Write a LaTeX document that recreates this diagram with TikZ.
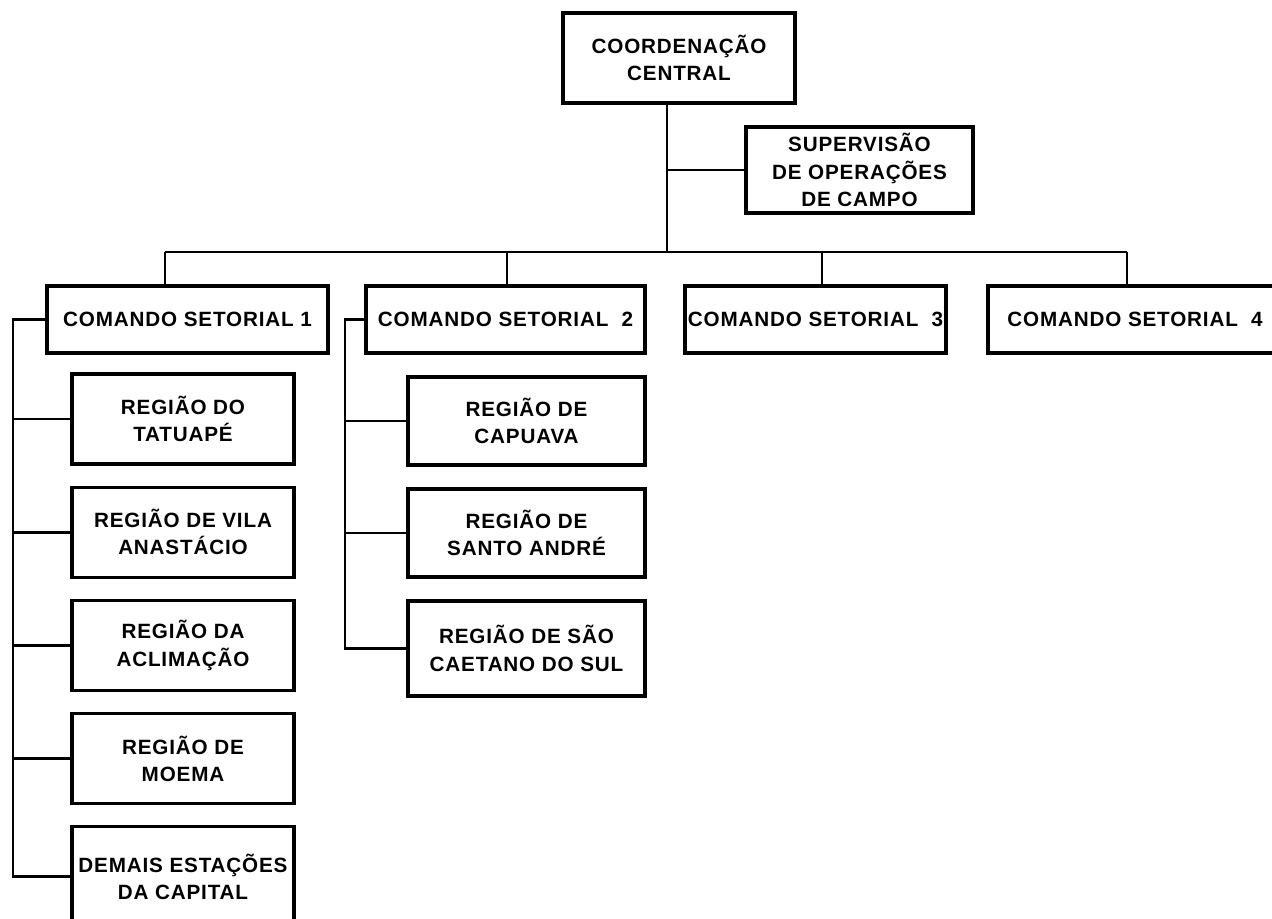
\documentclass[tikz,border=0pt]{standalone}
\usepackage{fontspec}
\setmainfont{Liberation Sans}
\newfontfamily\orgfont[LetterSpace=4]{Liberation Sans}
\usetikzlibrary{positioning}
\tikzset{box/.style = {draw, rectangle, line width=2.4pt, inner sep=0pt, outer sep=0pt,
                       align=center, font=\orgfont\bfseries\fontsize{15.5}{20.5}\selectfont},
         cmdbox/.style = {box, minimum height=50.25pt},
         regbox/.style = {box, minimum width=166.5pt, minimum height=67.5pt},
         link/.style = {line width=2pt}}

\begin{document}
\begin{tikzpicture}[x=0.75pt, y=-0.75pt]
      \useasboundingbox (0, 0) rectangle (1272, 919);
      \clip (0, 0) rectangle (1272, 919);

      \node [box, minimum width=174pt, minimum height=67.5pt] (cc) at (679, 58) {COORDENAÇÃO\\CENTRAL};
      \node [box, minimum width=170.25pt, minimum height=64.5pt] (sup) at (859.5, 170) {SUPERVISÃO\\DE OPERAÇÕES\\DE CAMPO};

      \node [cmdbox, minimum width=210.75pt] (cs1) at (187.5, 319.5) {COMANDO SETORIAL 1};
      \node [cmdbox, minimum width=209.25pt] (cs2) at (505.5, 319.5) {COMANDO SETORIAL\ \ 2};
      \node [cmdbox, minimum width=195.75pt] (cs3) at (815.5, 319.5) {COMANDO SETORIAL\ \ 3};
      \node [cmdbox, minimum width=220.5pt] (cs4) at (1135, 319.5) {COMANDO SETORIAL\ \ 4};

      \node [regbox] (tatuape) at (183, 419) {REGIÃO DO\\TATUAPÉ};
      \node [regbox, below=17.4pt of tatuape] (vila) {REGIÃO DE VILA\\ANASTÁCIO};
      \node [regbox, below=17.4pt of vila] (aclimacao) {REGIÃO DA\\ACLIMAÇÃO};
      \node [regbox, below=17.4pt of aclimacao] (moema) {REGIÃO DE\\MOEMA};
      \node [regbox, minimum height=75pt, below=17.4pt of moema] (demais) {DEMAIS ESTAÇÕES\\DA CAPITAL};

      \node [regbox, minimum width=177.75pt, minimum height=66pt] (capuava) at (526.5, 421) {REGIÃO DE\\CAPUAVA};
      \node [regbox, minimum width=177.75pt, minimum height=66pt, below=18pt of capuava] (santoandre) {REGIÃO DE\\SANTO ANDRÉ};
      \node [regbox, minimum width=177.75pt, minimum height=71.25pt, below=18pt of santoandre] (saocaetano) {REGIÃO DE SÃO\\CAETANO DO SUL};

      \coordinate (trunk) at (667, 252);
      \draw [link] (trunk |- cc.south) -- (trunk);
      \draw [link] (trunk |- sup.west) -- (sup.west);

      \coordinate (drop1) at (165, 252);
      \coordinate (drop2) at (507, 252);
      \coordinate (drop3) at (822, 252);
      \coordinate (drop4) at (1127, 252);
      \draw [link] (drop1) -- (drop4);
      \foreach \i in {1, 2, 3, 4}
        \draw [link] (drop\i) -- (drop\i |- cs\i.north);

      \coordinate (spine1) at (13, 319.5);
      \draw [link] (cs1.west) -- (spine1) |- (demais.west);
      \foreach \r in {tatuape, vila, aclimacao, moema}
        \draw [link] (spine1 |- \r.west) -- (\r.west);

      \coordinate (spine2) at (345, 319.5);
      \draw [link] (cs2.west) -- (spine2) |- (saocaetano.west);
      \foreach \r in {capuava, santoandre}
        \draw [link] (spine2 |- \r.west) -- (\r.west);
\end{tikzpicture}
\end{document}
